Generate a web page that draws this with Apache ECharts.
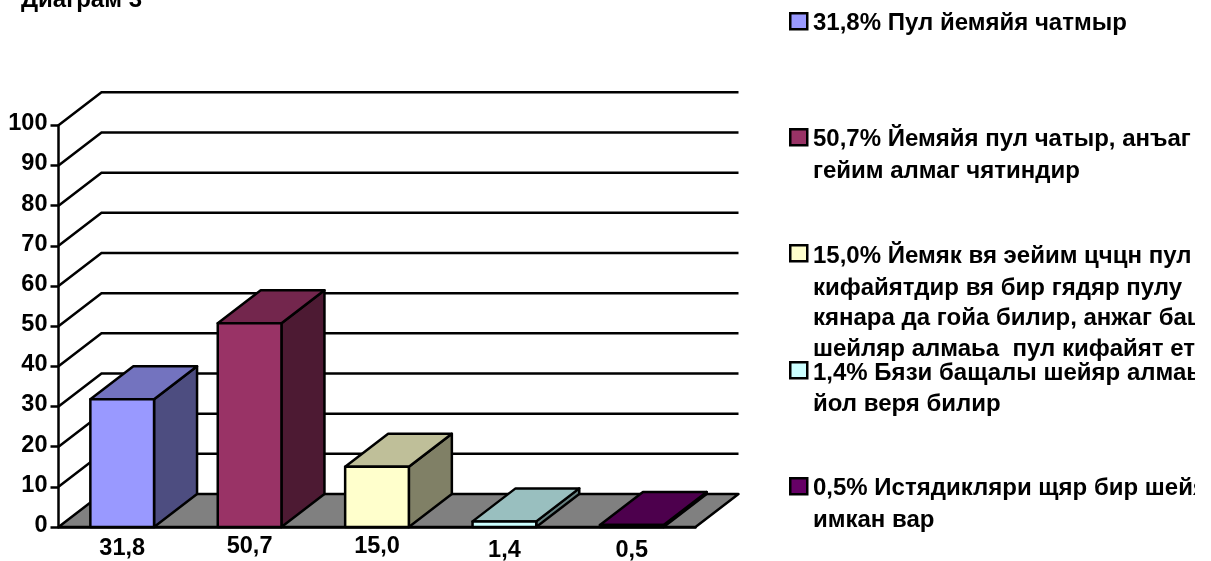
<!DOCTYPE html>
<html><head><meta charset="utf-8">
<style>html,body{margin:0;padding:0;background:#fff}#c{width:1211px;height:561px}</style>
<script src="https://cdn.jsdelivr.net/npm/echarts@6/dist/echarts.min.js"></script>
</head><body><div id="c"></div>
<script>
const categories = ['31,8','50,7','15,0','1,4','0,5'];
const values = [31.8,50.7,15.0,1.4,0.5];
const gridValues = [10,20,30,40,50,60,70,80,90,100];
const titleText = 'Диаграм 3';
const legendLabels = [
  ['31,8% Пул йемяйя чатмыр'],
  ['50,7% Йемяйя пул чатыр, анъаг','гейим алмаг чятиндир'],
  ['15,0% Йемяк вя эейим цчцн пул','кифайятдир вя бир гядяр пулу','кянара да гойа билир, анжаг бащ','шейляр алмаьа  пул кифайят ет'],
  ['1,4% Бязи бащалы шейяр алмаь','йол веря билир'],
  ['0,5% Истядикляри щяр бир шейя','имкан вар']
];

const frontColors = ['#9999FF','#993366','#FFFFCC','#CCFFFF','#660066'];
const topColors   = ['#7373BF','#73264D','#BFBF99','#99BFBF','#4D004D'];
const sideColors  = ['#4D4D80','#4D1A33','#808066','#668080','#330033'];
const DX = 43, DY = 33, LW = 2.5;
const FONT = '"Liberation Sans", Arial, sans-serif';
const legendLineY = [[22],[138,170],[255,287,317,348],[372,403],[487,519]];
const legendSwatchY = [12,128,244,361,477];
const labelStyle = ['a','b','b','c','c'];

const poly = (pts, fill) => ({type:'polygon', shape:{points:pts},
  style:{fill, stroke:'#000', lineWidth:LW, lineJoin:'round'}});

const floorItem = (params, api) => {
  const c = params.coordSys;
  const l = c.x, r = c.x + c.width, b = c.y + c.height;
  return poly([[l,b],[r,b],[r+DX,b-DY],[l+DX,b-DY]], '#808080');
};
const wallItem = (params, api) => {
  const c = params.coordSys;
  const y = api.coord([0, api.value(0)])[1];
  return {type:'polyline', shape:{points:[[c.x,y],[c.x+DX,y-DY],[c.x+c.width+DX,y-DY]]},
    style:{fill:'none', stroke:'#000', lineWidth:LW}};
};
const barItem = (params, api) => {
  const i = params.dataIndex;
  const w = api.size([1,0])[0] * 0.5;
  const p = api.coord([api.value(0), api.value(1)]);
  const b = api.coord([api.value(0), 0]);
  const l = p[0]-w/2, r = p[0]+w/2, t = p[1], f = b[1];
  return {type:'group', children:[
    poly([[r,f],[r+DX,f-DY],[r+DX,t-DY],[r,t]], sideColors[i]),
    poly([[l,t],[r,t],[r+DX,t-DY],[l+DX,t-DY]], topColors[i]),
    poly([[l,f],[r,f],[r,t],[l,t]], frontColors[i])
  ]};
};

const legendGraphics = [];
legendLabels.forEach((lines,i) => {
  legendGraphics.push({type:'rect', left:789, top:legendSwatchY[i], shape:{width:17,height:16},
    style:{fill:frontColors[i], stroke:'#000', lineWidth:LW}, z:10});
  lines.forEach((t,j) => legendGraphics.push({type:'text', left:813, top:legendLineY[i][j]-11,
    style:{text:t, fill:'#000', font:'bold 24px '+FONT}, z:10}));
});
legendGraphics.push({type:'rect', left:1195, top:0, shape:{width:16,height:561}, style:{fill:'#fff'}, z:11});
legendGraphics.push({type:'text', left:21, top:-12, style:{text:titleText, fill:'#000', font:'bold 24px '+FONT}, z:10});

const rl = pad => ({color:'#000',fontWeight:'bold',fontSize:23.5,fontFamily:FONT,padding:[pad,0,0,0]});
const chart = echarts.init(document.getElementById('c'), null, {renderer:'canvas'});
chart.setOption({
  animation:false,
  backgroundColor:'#fff',
  grid:{left:58.5, top:125.3, width:637, height:401.7, containLabel:false, outerBoundsMode:'none'},
  xAxis:{type:'category', data:categories, z:5,
    axisLine:{show:true, lineStyle:{color:'#000', width:LW}},
    axisTick:{show:false}, splitLine:{show:false},
    axisLabel:{margin:8, interval:0, color:'#000', fontWeight:'bold', fontSize:24, fontFamily:FONT,
      formatter:(v,i)=> '{'+labelStyle[i]+'|'+v+'}',
      rich:{a:rl(2), b:rl(0), c:rl(4)}}},
  yAxis:{type:'value', min:0, max:100, interval:10, z:5,
    axisLine:{show:true, lineStyle:{color:'#000', width:LW}},
    axisTick:{show:true, length:8, lineStyle:{color:'#000', width:LW}},
    splitLine:{show:false},
    axisLabel:{margin:11, color:'#000', fontWeight:'bold', fontSize:23.5, fontFamily:FONT,
      formatter:v=>'{n|'+v+'}',
      rich:{n:{color:'#000',fontWeight:'bold',fontSize:23.5,fontFamily:FONT,padding:[0,0,3,0]}}}},
  graphic:legendGraphics,
  series:[
    {type:'custom', coordinateSystem:'cartesian2d', data:[[0]], renderItem:floorItem, silent:true, z:1, clip:false},
    {type:'custom', coordinateSystem:'cartesian2d', data:gridValues.map(v=>[v]), renderItem:wallItem, silent:true, z:2, clip:false},
    {type:'custom', coordinateSystem:'cartesian2d', data:values.map((v,i)=>[i,v]), encode:{x:0,y:1}, renderItem:barItem, z:3, clip:false}
  ]
});
</script></body></html>
